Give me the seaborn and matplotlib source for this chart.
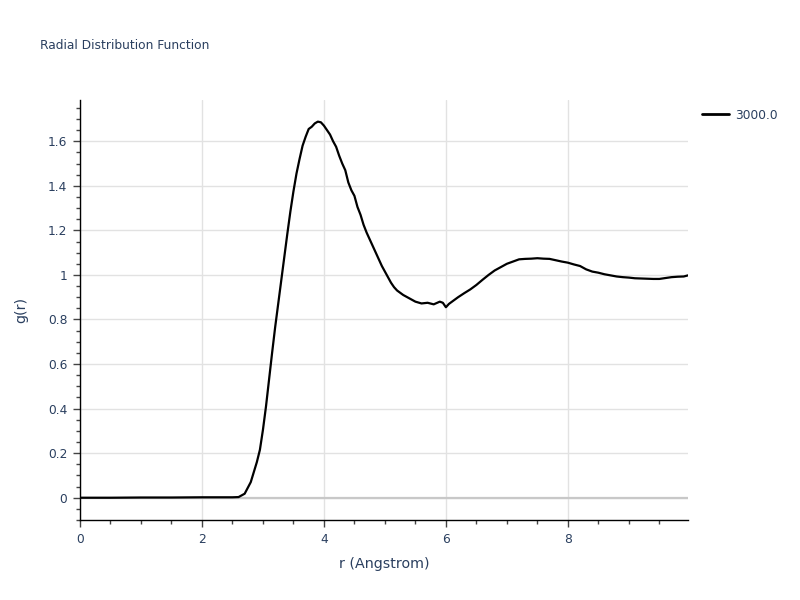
import numpy as np
import pandas as pd
import matplotlib
matplotlib.use("Agg")
import matplotlib.pyplot as plt
from matplotlib.ticker import MultipleLocator, FuncFormatter
import seaborn as sns

# ---- data ----
r_values = [0.0, 0.5, 1.0, 1.5, 2.0, 2.5, 2.6, 2.7, 2.8, 2.9, 2.95, 3.0, 3.05, 3.1,
            3.15, 3.2, 3.25, 3.3, 3.35, 3.4, 3.45, 3.5, 3.55, 3.6, 3.65, 3.7, 3.75,
            3.8, 3.85, 3.9, 3.95, 4.0, 4.05, 4.1, 4.15, 4.2, 4.25, 4.3, 4.35, 4.4,
            4.45, 4.5, 4.55, 4.6, 4.65, 4.7, 4.75, 4.8, 4.85, 4.9, 4.95, 5.0, 5.05,
            5.1, 5.15, 5.2, 5.3, 5.4, 5.5, 5.6, 5.7, 5.8, 5.9, 5.95, 6.0, 6.05, 6.1,
            6.2, 6.3, 6.4, 6.5, 6.6, 6.7, 6.8, 6.9, 7.0, 7.1, 7.2, 7.3, 7.4, 7.5,
            7.6, 7.7, 7.8, 7.9, 8.0, 8.1, 8.2, 8.3, 8.4, 8.5, 8.6, 8.7, 8.8, 8.9,
            9.0, 9.1, 9.2, 9.3, 9.4, 9.5, 9.6, 9.7, 9.8, 9.9, 9.97]
g_values = [0.0, 0.0, 0.001, 0.001, 0.002, 0.002, 0.003, 0.018, 0.07, 0.16, 0.215, 0.305,
            0.41, 0.53, 0.65, 0.765, 0.87, 0.975, 1.08, 1.185, 1.285, 1.375, 1.455, 1.52,
            1.58, 1.62, 1.655, 1.665, 1.68, 1.688, 1.685, 1.67, 1.65, 1.63, 1.60,
            1.575, 1.535, 1.50, 1.47, 1.415, 1.38, 1.355, 1.305, 1.27, 1.225, 1.19, 1.16,
            1.13, 1.10, 1.07, 1.04, 1.015, 0.99, 0.965, 0.945, 0.93, 0.91, 0.895,
            0.88, 0.872, 0.875, 0.868, 0.88, 0.875, 0.855, 0.87, 0.88, 0.90, 0.918,
            0.935, 0.955, 0.978, 1.0, 1.02, 1.035, 1.05, 1.06, 1.07, 1.072, 1.073,
            1.075, 1.073, 1.072, 1.066, 1.06, 1.055, 1.047, 1.04, 1.025, 1.015, 1.01,
            1.003, 0.998, 0.993, 0.99, 0.988, 0.985, 0.984, 0.983, 0.982, 0.982,
            0.986, 0.99, 0.992, 0.993, 0.998]
series_name = "3000.0"

title_text = "Radial Distribution Function"
x_label = "r (Angstrom)"
y_label = "g(r)"

df = pd.DataFrame({"r": r_values, "g": g_values, "series": series_name})

sns.set_style("white")
plt.rcParams["font.family"] = ["DejaVu Sans"]

text_color = "#2a3f5f"
fig = plt.figure(figsize=(8, 6), dpi=100)
ax = fig.add_axes([0.1, 0.1333, 0.76, 0.70])

# zero line
ax.axhline(0, color="#c8c8c8", lw=1.6, zorder=1)

sns.lineplot(data=df, x="r", y="g", hue="series", palette=["black"],
             linewidth=1.6, ax=ax, zorder=3, estimator=None, sort=False)

ax.set_xlim(0, 9.97)
ax.set_ylim(-0.1, 1.785)

ax.xaxis.set_major_locator(MultipleLocator(2))
ax.xaxis.set_minor_locator(MultipleLocator(0.5))
ax.yaxis.set_major_locator(MultipleLocator(0.2))
ax.yaxis.set_minor_locator(MultipleLocator(0.05))

def fmt(v, pos):
    s = f"{v:.1f}"
    if s.endswith(".0"):
        s = s[:-2]
    if s == "-0":
        s = "0"
    return s

ax.yaxis.set_major_formatter(FuncFormatter(fmt))
ax.xaxis.set_major_formatter(FuncFormatter(lambda v, p: f"{v:g}"))

ax.grid(True, which="major", color="#e2e2e2", lw=1.0, zorder=0)
ax.set_axisbelow(True)

for side in ["top", "right"]:
    ax.spines[side].set_visible(False)
for side in ["left", "bottom"]:
    ax.spines[side].set_color("black")
    ax.spines[side].set_linewidth(1.0)

ax.tick_params(axis="both", which="major", direction="out", length=5, width=1,
               color="#444444", labelcolor=text_color, labelsize=8.8, pad=4,
               left=True, bottom=True)
ax.tick_params(axis="both", which="minor", direction="out", length=3, width=1,
               color="#444444", left=True, bottom=True)

ax.set_xlabel(x_label, color=text_color, fontsize=10.3, labelpad=8)
ax.set_ylabel(y_label, color=text_color, fontsize=10.3, labelpad=14)

fig.text(0.05, 0.924, title_text, color=text_color, fontsize=8.8, va="center", ha="left")

leg = ax.legend(loc="upper left", bbox_to_anchor=(0.872, 0.827),
                bbox_transform=fig.transFigure, frameon=False, fontsize=8.8,
                handlelength=2.2, handletextpad=0.5, borderaxespad=0)
for t in leg.get_texts():
    t.set_color(text_color)
for h in leg.get_lines():
    h.set_linewidth(2)

fig.savefig("out.png", dpi=100)
